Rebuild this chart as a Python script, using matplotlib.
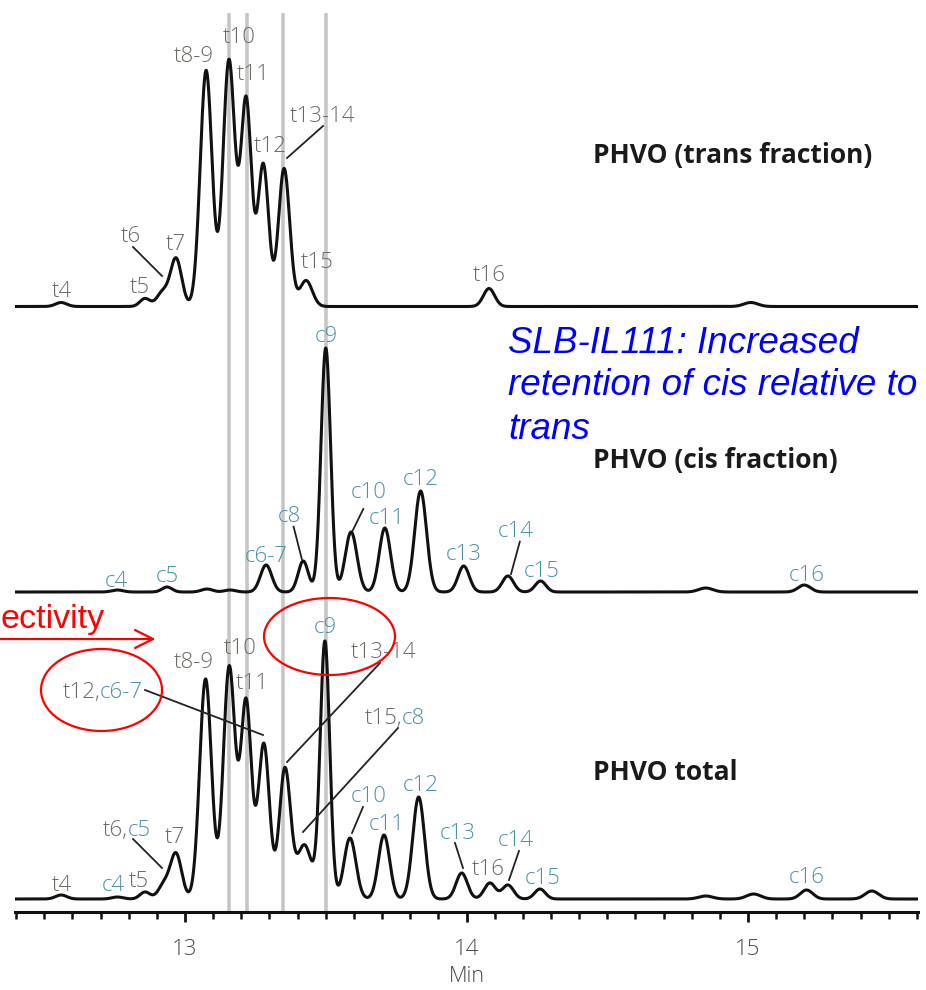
import numpy as np
import matplotlib
matplotlib.use("Agg")
import matplotlib.pyplot as plt
from matplotlib.patches import Ellipse
from matplotlib.lines import Line2D

# ---------------- data ----------------
time_range = (12.396, 15.604)            # minutes
ref_lines = [13.156, 13.220, 13.348, 13.501]

# PHVO (trans fraction)
trans_rt     = [12.56, 12.858, 12.92, 12.968, 13.075, 13.156, 13.217, 13.278, 13.352, 13.43, 14.08, 15.01]
trans_height = [4, 8, 14, 48, 236, 246, 206, 142, 138, 26, 18, 4]
trans_sigma  = [0.02, 0.018, 0.02, 0.02, 0.021, 0.021, 0.019, 0.019, 0.02, 0.022, 0.02, 0.025]

# PHVO (cis fraction)
cis_rt     = [12.76, 12.936, 13.078, 13.16, 13.288, 13.42, 13.50, 13.59, 13.71, 13.837, 13.99, 14.147, 14.263, 14.85, 15.20]
cis_height = [2, 5, 3, 2, 27, 31, 244, 60, 64, 101, 26, 16, 11, 4, 7]
cis_sigma  = [0.02, 0.018, 0.02, 0.02, 0.02, 0.018, 0.017, 0.021, 0.02, 0.021, 0.02, 0.02, 0.019, 0.025, 0.022]

# PHVO total
total_rt     = [12.56, 12.76, 12.858, 12.925, 12.968, 13.073, 13.157, 13.217, 13.28, 13.355, 13.424, 13.497,
                13.586, 13.707, 13.83, 13.983, 14.083, 14.147, 14.261, 14.85, 15.02, 15.208, 15.44]
total_height = [4, 2, 7, 14, 45, 220, 232, 196, 155, 130, 54, 257,
                61, 64, 102, 26, 16, 14, 10, 3, 5, 9, 8]
total_sigma  = [0.02, 0.02, 0.018, 0.02, 0.02, 0.021, 0.021, 0.019, 0.02, 0.02, 0.026, 0.017,
                0.021, 0.02, 0.021, 0.02, 0.02, 0.02, 0.019, 0.025, 0.025, 0.022, 0.024]

trace_offsets = {"trans": 605.5, "cis": 320, "total": 13}

# ---------------- helpers ----------------
def chromatogram(t, rts, heights, sigmas):
    y = np.zeros_like(t)
    for r, h, s in zip(rts, heights, sigmas):
        y += h * np.exp(-0.5 * ((t - r) / s) ** 2)
    return y

# layout helpers (annotation placement only): reference pixel -> axes data
def X(px):
    return 13 + (px - 185) / 281.5

def Y(py):
    return 912 - py

GRAY = "#6b6b63"
TEAL = "#4a93a8"
LABEL_FONT = "Open Sans"
LFS = 16

fig = plt.figure(figsize=(9.26, 9.9), dpi=100)
ax = fig.add_axes([15 / 926, 78 / 990, 903 / 926, 912 / 990])
ax.set_xlim(*time_range)
ax.set_ylim(0, 912)

t = np.linspace(time_range[0], time_range[1], 4000)

# reference vertical lines
for rl in ref_lines:
    ax.plot([rl, rl], [0, Y(13)], color="#c6c6c6", lw=2.6, zorder=1, solid_capstyle="butt")

# traces
for name, rts, hs, ss in [("trans", trans_rt, trans_height, trans_sigma),
                          ("cis", cis_rt, cis_height, cis_sigma),
                          ("total", total_rt, total_height, total_sigma)]:
    ax.plot(t, trace_offsets[name] + chromatogram(t, rts, hs, ss),
            color="#111111", lw=2.2, zorder=3, solid_joinstyle="round")

# ---------------- peak labels ----------------
labels = [
    # top (trans)
    ("t4", GRAY, 62, 297), ("t5", GRAY, 140, 293), ("t6", GRAY, 131, 242), ("t7", GRAY, 176, 250),
    ("t8-9", GRAY, 194, 62), ("t10", GRAY, 239, 43), ("t11", GRAY, 253, 80), ("t12", GRAY, 270, 152),
    ("t13-14", GRAY, 322, 122), ("t15", GRAY, 317, 268), ("t16", GRAY, 489, 281),
    # middle (cis)
    ("c4", TEAL, 116, 587), ("c5", TEAL, 167, 582), ("c6-7", TEAL, 266, 562), ("c8", TEAL, 289, 522),
    ("c9", TEAL, 326, 342), ("c10", TEAL, 369, 498), ("c11", TEAL, 387, 524), ("c12", TEAL, 421, 485),
    ("c13", TEAL, 464, 560), ("c14", TEAL, 516, 537), ("c15", TEAL, 542, 577), ("c16", TEAL, 807, 581),
    # bottom (total)
    ("t4", GRAY, 62, 891), ("c4", TEAL, 113, 891), ("t5", GRAY, 139, 887), ("t7", GRAY, 175, 843),
    ("t8-9", GRAY, 194, 668), ("t10", GRAY, 240, 654), ("t11", GRAY, 252, 689), ("c9", TEAL, 325, 633),
    ("t13-14", GRAY, 383, 658), ("c10", TEAL, 369, 802), ("c11", TEAL, 387, 830), ("c12", TEAL, 421, 791),
    ("c13", TEAL, 458, 839), ("t16", GRAY, 488, 875), ("c14", TEAL, 516, 846), ("c15", TEAL, 543, 884),
    ("c16", TEAL, 807, 883),
]
for txt, col, px, py in labels:
    ax.text(X(px), Y(py), txt, color=col, fontsize=LFS, family=LABEL_FONT, fontweight="light",
            ha="center", va="baseline", zorder=4)

# two-colour labels (split point, baseline)
split_labels = [("t6,", "c5", 128, 836), ("t12,", "c6-7", 100, 698), ("t15,", "c8", 402, 724)]
for a, b, px, py in split_labels:
    ax.text(X(px), Y(py), a, color=GRAY, fontsize=LFS, family=LABEL_FONT, fontweight="light",
            ha="right", va="baseline", zorder=4)
    ax.text(X(px), Y(py), b, color=TEAL, fontsize=LFS, family=LABEL_FONT, fontweight="light",
            ha="left", va="baseline", zorder=4)

# leader lines (reference pixels)
leaders = [
    ((133, 247), (162, 276)), ((323, 126), (287, 158)),
    ((293.6, 526.7), (301.8, 559)), ((363.3, 509), (352.6, 530.7)), ((519.8, 541.7), (511, 574)),
    ((133, 839), (162, 868)), ((145, 690), (263, 735)), ((380, 663), (287, 762)),
    ((398, 728), (303, 832)), ((363, 807), (352, 833)), ((455, 843), (463, 868)),
    ((519, 851), (509, 880)),
]
for (x0, y0), (x1, y1) in leaders:
    ax.plot([X(x0), X(x1)], [Y(y0), Y(y1)], color="#222222", lw=1.3, zorder=4)

# trace titles
for txt, py in [("PHVO (trans fraction)", 163), ("PHVO (cis fraction)", 468), ("PHVO total", 780)]:
    ax.text(X(593), Y(py), txt, fontsize=19, family="Open Sans", fontweight="bold",
            color="#1a1a1a", ha="left", va="baseline", zorder=4)

# blue annotation
for txt, py in [("SLB-IL111: Increased", 353), ("retention of cis relative to", 395), ("trans", 439)]:
    ax.text(X(508), Y(py), txt, fontsize=26.5, family="Liberation Sans", style="italic",
            color="#0000ff", ha="left", va="baseline", zorder=5)

# red annotations
ax.text(X(0), Y(628), "ectivity", fontsize=24.5, family="Liberation Sans", color="#ff0000",
        ha="left", va="baseline", zorder=5, clip_on=False)
for (x0, y0), (x1, y1) in [((0, 639), (153, 639)), ((135, 630), (153, 639)), ((135, 648), (153, 639))]:
    ax.add_line(Line2D([X(x0), X(x1)], [Y(y0), Y(y1)], color="#ff0000", lw=1.6, zorder=5,
                       clip_on=False, solid_capstyle="round"))
for cx, cy, w, h in [(101.5, 690, 121, 82), (329.5, 636.5, 131, 77)]:
    ax.add_patch(Ellipse((X(cx), Y(cy)), w / 281.5, h, fill=False, edgecolor="#ff0000",
                         lw=1.6, zorder=5, clip_on=False))

# ---------------- axis styling ----------------
for s in ["top", "left", "right"]:
    ax.spines[s].set_visible(False)
ax.spines["bottom"].set_linewidth(2.2)
ax.spines["bottom"].set_color("#111111")
ax.set_yticks([])
ax.set_xticks([13, 14, 15])
ax.set_xticks(np.round(np.arange(12.4, 15.61, 0.1), 2), minor=True)
ax.tick_params(axis="x", which="major", length=7.5, width=2.0, color="#111111", pad=12,
               labelsize=16, labelcolor="#4a4a4a")
ax.tick_params(axis="x", which="minor", length=5, width=1.8, color="#111111")
for lab in ax.get_xticklabels():
    lab.set_family("Open Sans")
    lab.set_fontweight("light")
ax.text(14, Y(982), "Min", fontsize=15.5, family="Open Sans", fontweight="light", color="#4a4a4a",
        ha="center", va="baseline", clip_on=False)
ax.set_facecolor("none")

fig.savefig("out.png", dpi=100)
